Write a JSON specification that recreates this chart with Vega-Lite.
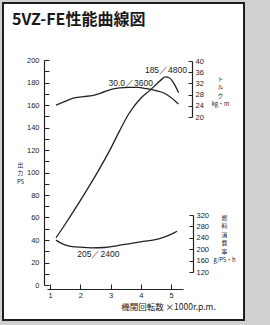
{
  "$schema": "https://vega.github.io/schema/vega-lite/v6.json",
  "width": 241,
  "height": 317,
  "autosize": {"type": "none"},
  "padding": {"left": 3, "top": 3, "right": 26, "bottom": 5},
  "background": "#d0d0d0",
  "config": {
    "view": {"fill": "white", "stroke": "#1e1e1e", "strokeWidth": 2},
    "axis": {
      "grid": false,
      "domainColor": "#222222",
      "domainWidth": 1.2,
      "tickColor": "#222222",
      "tickWidth": 1,
      "labelColor": "#222222",
      "labelFont": "Liberation Sans",
      "labelFontSize": 7.5,
      "labelFlush": false,
      "labelOverlap": false,
      "titleColor": "#222222",
      "titleFont": "Noto Sans CJK JP",
      "titleFontWeight": "normal",
      "titleFontSize": 5.8,
      "titleAngle": 0,
      "titleAlign": "center"
    }
  },
  "title": {
    "text": "5VZ-FE性能曲線図",
    "anchor": "start",
    "frame": "group",
    "offset": -38,
    "dx": 9,
    "baseline": "alphabetic",
    "font": "Noto Sans CJK JP",
    "fontSize": 16,
    "fontWeight": "bold",
    "color": "#1a1a1a"
  },
  "datasets": {
    "power": [
      {"rpm": 1.2, "v": 42},
      {"rpm": 1.5, "v": 54},
      {"rpm": 2.0, "v": 75},
      {"rpm": 2.5, "v": 97},
      {"rpm": 3.0, "v": 121},
      {"rpm": 3.3, "v": 137},
      {"rpm": 3.6, "v": 152},
      {"rpm": 4.0, "v": 166},
      {"rpm": 4.3, "v": 173},
      {"rpm": 4.5, "v": 178},
      {"rpm": 4.7, "v": 183},
      {"rpm": 4.8, "v": 185},
      {"rpm": 4.95, "v": 184},
      {"rpm": 5.1, "v": 179},
      {"rpm": 5.25, "v": 171}
    ],
    "torque": [
      {"rpm": 1.2, "v": 24.2},
      {"rpm": 1.5, "v": 25.6},
      {"rpm": 1.8, "v": 26.8},
      {"rpm": 2.1, "v": 27.3},
      {"rpm": 2.4, "v": 27.6},
      {"rpm": 2.7, "v": 28.6},
      {"rpm": 3.0, "v": 29.8},
      {"rpm": 3.3, "v": 30.4},
      {"rpm": 3.6, "v": 30.6},
      {"rpm": 3.9, "v": 30.6},
      {"rpm": 4.2, "v": 30.1},
      {"rpm": 4.5, "v": 29.4},
      {"rpm": 4.8, "v": 28.4},
      {"rpm": 5.0, "v": 27.0},
      {"rpm": 5.25, "v": 24.6}
    ],
    "fuel": [
      {"rpm": 1.2, "v": 232},
      {"rpm": 1.35, "v": 222},
      {"rpm": 1.6, "v": 212},
      {"rpm": 2.0, "v": 207},
      {"rpm": 2.4, "v": 205},
      {"rpm": 2.8, "v": 206},
      {"rpm": 3.2, "v": 212},
      {"rpm": 3.6, "v": 219},
      {"rpm": 4.0, "v": 226},
      {"rpm": 4.4, "v": 232},
      {"rpm": 4.7, "v": 240},
      {"rpm": 5.0, "v": 252},
      {"rpm": 5.2, "v": 263}
    ],
    "powerLabel": [{"rpm": 4.8, "v": 185, "label": "185／4800"}],
    "torqueLabel": [{"rpm": 3.6, "v": 30.0, "label": "30.0／3600"}],
    "fuelLabel": [{"rpm": 2.4, "v": 205, "label": "205／2400"}]
  },
  "encoding": {
    "x": {
      "field": "rpm",
      "type": "quantitative",
      "scale": {"domain": [0.9, 5.4], "range": [43.975, 180.1], "nice": false, "zero": false},
      "axis": {
        "orient": "bottom",
        "offset": -31,
        "values": [1, 2, 3, 4, 5],
        "tickSize": -5,
        "labelPadding": 7,
        "title": "機関回転数 ×1000r.p.m.",
        "titleFontSize": 8.5,
        "titleX": 165,
        "titleY": 17.5,
        "titleBaseline": "middle"
      }
    }
  },
  "layer": [
    {
      "encoding": {
        "y": {
          "field": "v",
          "type": "quantitative",
          "scale": {"domain": [0, 200], "range": [282, 57], "nice": false, "zero": false},
          "axis": {
            "orient": "left",
            "offset": -41,
            "values": [0, 10, 20, 30, 40, 50, 60, 70, 80, 90, 100, 110, 120, 130, 140, 150, 160, 170, 180, 190, 200],
            "labelExpr": "datum.value % 20 === 0 ? datum.label : ''",
            "tickSize": -5,
            "labelPadding": 10,
            "title": ["出", "力", "", "PS"],
            "titleX": -24,
            "titleY": 158,
            "titleBaseline": "top",
            "titleLineHeight": 8.5
          }
        }
      },
      "layer": [
        {
          "data": {"name": "power"},
          "mark": {"type": "line", "interpolate": "monotone", "stroke": "#222222", "strokeWidth": 1.3}
        },
        {
          "data": {"name": "powerLabel"},
          "mark": {"type": "text", "font": "Liberation Sans", "fontSize": 8.5, "fill": "#222222", "align": "center", "baseline": "alphabetic", "dx": 1, "dy": -4},
          "encoding": {"text": {"field": "label"}}
        }
      ]
    },
    {
      "encoding": {
        "y": {
          "field": "v",
          "type": "quantitative",
          "scale": {"domain": [20, 40], "range": [114, 58], "nice": false, "zero": false},
          "axis": {
            "orient": "right",
            "offset": -52,
            "values": [20, 24, 28, 32, 36, 40],
            "tickSize": -4,
            "labelPadding": 7,
            "title": ["ト", "ル", "ク", "kg・m"],
            "titleX": 28,
            "titleY": 72,
            "titleBaseline": "top",
            "titleLineHeight": 8.5
          }
        }
      },
      "layer": [
        {
          "data": {"name": "torque"},
          "mark": {"type": "line", "interpolate": "monotone", "stroke": "#222222", "strokeWidth": 1.3}
        },
        {
          "data": {"name": "torqueLabel"},
          "mark": {"type": "text", "font": "Liberation Sans", "fontSize": 8.5, "fill": "#222222", "align": "center", "baseline": "alphabetic", "dx": 2, "dy": -3.5},
          "encoding": {"text": {"field": "label"}}
        }
      ]
    },
    {
      "encoding": {
        "y": {
          "field": "v",
          "type": "quantitative",
          "scale": {"domain": [120, 320], "range": [269, 212], "nice": false, "zero": false},
          "axis": {
            "orient": "right",
            "offset": -51,
            "values": [120, 160, 200, 240, 280, 320],
            "tickSize": -4,
            "labelPadding": 7,
            "title": ["燃", "料", "消", "費", "率", "", "g/PS・h"],
            "titleX": 31,
            "titleY": 211,
            "titleBaseline": "top",
            "titleLineHeight": 8.5
          }
        }
      },
      "layer": [
        {
          "data": {"name": "fuel"},
          "mark": {"type": "line", "interpolate": "monotone", "stroke": "#222222", "strokeWidth": 1.3}
        },
        {
          "data": {"name": "fuelLabel"},
          "mark": {"type": "text", "font": "Liberation Sans", "fontSize": 8.5, "fill": "#222222", "align": "center", "baseline": "alphabetic", "dx": 6, "dy": 9},
          "encoding": {"text": {"field": "label"}}
        }
      ]
    }
  ],
  "resolve": {"scale": {"y": "independent"}, "axis": {"y": "independent"}}
}
